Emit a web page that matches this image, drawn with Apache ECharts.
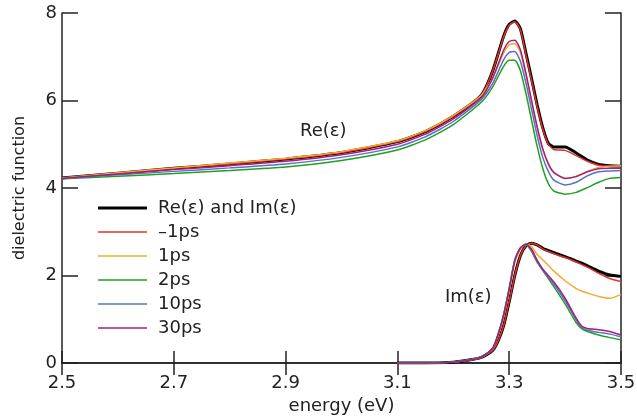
<!DOCTYPE html>
<html>
<head>
<meta charset="utf-8">
<script src="https://cdn.jsdelivr.net/npm/echarts@6/dist/echarts.min.js"></script>
<style>html,body{margin:0;padding:0;background:#fff}#c{width:637px;height:417px}</style>
</head>
<body>
<div id="c"></div>
<script>
// ---- data ----
const xTicks = [2.5, 2.7, 2.9, 3.1, 3.3, 3.5];
const yTicks = [0, 2, 4, 6, 8];
const legendNames = ['Re(\u03b5) and Im(\u03b5)', '\u20131ps', '1ps', '2ps', '10ps', '30ps'];

const energyRe = [2.5,2.6,2.7,2.8,2.9,3.0,3.1,3.15,3.2,3.25,3.27,3.29,3.30,3.31,3.32,3.33,3.34,3.35,3.36,3.37,3.38,3.40,3.42,3.44,3.46,3.48,3.5];
const reBlack   = [4.23,4.34,4.45,4.55,4.66,4.81,5.06,5.29,5.64,6.12,6.66,7.47,7.74,7.82,7.64,7.08,6.50,5.90,5.38,5.02,4.94,4.94,4.80,4.64,4.54,4.51,4.50];
const reM1ps    = [4.23,4.34,4.45,4.55,4.66,4.81,5.06,5.29,5.64,6.12,6.66,7.45,7.72,7.80,7.62,7.04,6.46,5.86,5.35,5.00,4.88,4.86,4.74,4.61,4.52,4.50,4.50];
const re1ps     = [4.23,4.35,4.46,4.57,4.68,4.83,5.08,5.31,5.66,6.12,6.50,7.08,7.27,7.30,7.10,6.58,5.98,5.38,4.88,4.55,4.36,4.22,4.27,4.38,4.47,4.50,4.51];
const re2ps     = [4.21,4.27,4.33,4.40,4.48,4.63,4.87,5.10,5.45,5.96,6.30,6.78,6.92,6.92,6.68,6.16,5.55,4.95,4.45,4.10,3.93,3.86,3.90,4.01,4.13,4.22,4.24];
const re10ps    = [4.22,4.30,4.38,4.46,4.55,4.70,4.94,5.17,5.52,6.02,6.38,6.93,7.10,7.12,6.90,6.40,5.80,5.20,4.70,4.38,4.18,4.07,4.13,4.28,4.37,4.39,4.40];
const re30ps    = [4.22,4.32,4.42,4.51,4.61,4.76,5.00,5.23,5.58,6.07,6.50,7.15,7.35,7.38,7.16,6.62,6.00,5.40,4.90,4.55,4.35,4.22,4.26,4.37,4.44,4.45,4.45];

const energyIm = [3.1,3.15,3.2,3.22,3.25,3.27,3.28,3.29,3.30,3.31,3.32,3.33,3.34,3.35,3.36,3.38,3.40,3.42,3.43,3.44,3.46,3.48,3.5];
const imBlack   = [0,0,0.02,0.05,0.13,0.28,0.50,0.85,1.40,2.00,2.45,2.68,2.74,2.70,2.62,2.52,2.43,2.33,2.28,2.22,2.10,2.01,1.98];
const imM1ps    = [0,0,0.02,0.05,0.13,0.28,0.50,0.85,1.40,2.00,2.45,2.68,2.74,2.70,2.61,2.50,2.41,2.31,2.25,2.19,2.05,1.93,1.86];
const im1ps     = [0,0,0.02,0.05,0.13,0.32,0.62,1.05,1.65,2.30,2.60,2.72,2.66,2.48,2.36,2.10,1.88,1.70,1.64,1.60,1.52,1.48,1.57];
const im2ps     = [0,0,0.02,0.05,0.13,0.33,0.65,1.10,1.70,2.35,2.63,2.70,2.55,2.30,2.12,1.74,1.35,0.92,0.78,0.72,0.64,0.58,0.53];
const im10ps    = [0,0,0.02,0.05,0.13,0.33,0.65,1.10,1.70,2.35,2.63,2.71,2.58,2.32,2.12,1.80,1.42,0.98,0.81,0.75,0.70,0.66,0.60];
const im30ps    = [0,0,0.02,0.05,0.13,0.33,0.65,1.10,1.70,2.35,2.63,2.72,2.60,2.35,2.15,1.85,1.48,1.02,0.84,0.79,0.76,0.72,0.64];

// ---- build ----
const FONT = '"DejaVu Sans", Verdana, sans-serif';
const colors = ['#000000', '#e0302a', '#f7a733', '#22a022', '#5a72c4', '#a0207e'];
const widths = [3, 1.5, 1.5, 1.5, 1.5, 1.5];
const reSets = [reBlack, reM1ps, re1ps, re2ps, re10ps, re30ps];
const imSets = [imBlack, imM1ps, im1ps, im2ps, im10ps, im30ps];

function pairs(xs, ys) { return xs.map((x, i) => [x, ys[i]]); }

const series = [];
for (let k = 0; k < 6; k++) {
  const common = {
    type: 'line', name: legendNames[k], symbol: 'none', smooth: 0.2,
    lineStyle: { color: colors[k], width: widths[k] }, itemStyle: { color: colors[k] },
    z: 2 + k, animation: false
  };
  series.push(Object.assign({}, common, { data: pairs(energyRe, reSets[k]) }));
  series.push(Object.assign({}, common, { data: pairs(energyIm, imSets[k]) }));
}

const legendData = legendNames.map((n, k) => ({
  name: n,
  icon: k === 0 ? 'path://M0,0H49V3H0Z' : 'path://M0,0H49V1.6H0Z',
  itemStyle: { color: colors[k], borderWidth: 0 }
}));

const axisLine = { show: true, lineStyle: { color: '#222', width: 1.5 } };
const chart = echarts.init(document.getElementById('c'), null, { renderer: 'canvas' });
chart.setOption({
  animation: false,
  backgroundColor: '#fff',
  grid: { left: 62, right: 16, top: 13, bottom: 54, containLabel: false, outerBoundsMode: 'none' },
  legend: {
    data: legendData, orient: 'vertical', left: 98, top: 199, padding: 0,
    itemWidth: 49, itemHeight: 18, itemGap: 6, symbolKeepAspect: true,
    textStyle: { fontFamily: FONT, fontSize: 18, color: '#222', padding: [0, 0, 0, 6] }
  },
  xAxis: [
    { type: 'value', min: xTicks[0], max: xTicks[xTicks.length - 1], interval: 0.2, position: 'bottom',
      name: 'energy (eV)', nameLocation: 'middle', nameGap: 34,
      nameTextStyle: { fontFamily: FONT, fontSize: 18, color: '#222' },
      axisLine: axisLine, axisTick: { inside: true, length: 12, lineStyle: { color: '#222', width: 1.5 } },
      axisLabel: { fontFamily: FONT, fontSize: 18, color: '#222', margin: 11, formatter: v => v.toFixed(1) },
      splitLine: { show: false } },
    { type: 'value', min: xTicks[0], max: xTicks[xTicks.length - 1], interval: 0.2, position: 'top',
      axisLine: axisLine, axisTick: { inside: true, length: 12, lineStyle: { color: '#222', width: 1.5 } },
      axisLabel: { show: false }, splitLine: { show: false } }
  ],
  yAxis: [
    { type: 'value', min: yTicks[0], max: yTicks[yTicks.length - 1], interval: 2, position: 'left',
      name: 'dielectric function', nameLocation: 'middle', nameGap: 34,
      nameTextStyle: { fontFamily: FONT, fontSize: 16, color: '#222' },
      axisLine: axisLine, axisTick: { inside: true, length: 16, lineStyle: { color: '#222', width: 1.5 } },
      axisLabel: { fontFamily: FONT, fontSize: 18, color: '#222', margin: 5 },
      splitLine: { show: false } },
    { type: 'value', min: yTicks[0], max: yTicks[yTicks.length - 1], interval: 2, position: 'right',
      axisLine: axisLine, axisTick: { inside: true, length: 16, lineStyle: { color: '#222', width: 1.5 } },
      axisLabel: { show: false }, splitLine: { show: false } }
  ],
  graphic: [
    { type: 'text', left: 300, top: 122, style: { text: 'Re(\u03b5)', font: '18px ' + FONT, fill: '#222' } },
    { type: 'text', left: 445, top: 288, style: { text: 'Im(\u03b5)', font: '18px ' + FONT, fill: '#222' } }
  ],
  series: series
});
</script>
</body>
</html>
